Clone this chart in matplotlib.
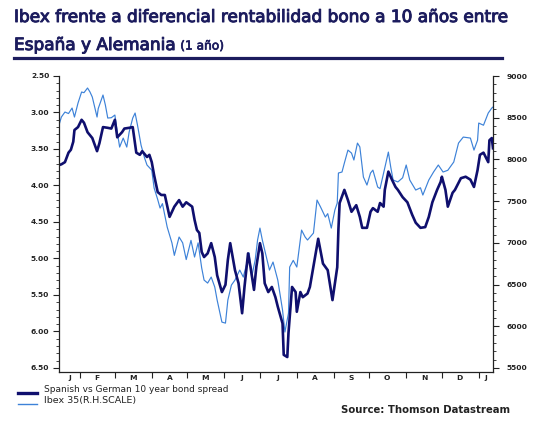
import matplotlib
matplotlib.use('Agg')
import matplotlib.pyplot as plt
import matplotlib.dates as mdates
import matplotlib.patheffects as pe
from matplotlib.ticker import MultipleLocator, FixedLocator, FuncFormatter
from matplotlib.lines import Line2D
import numpy as np
import pandas as pd

# ---------------- data ----------------
spread_dates = ["2012-01-14","2012-01-16","2012-01-19","2012-01-22","2012-01-24","2012-01-26","2012-01-27",
 "2012-01-30","2012-02-02","2012-02-04","2012-02-07","2012-02-11","2012-02-15","2012-02-17","2012-02-20",
 "2012-02-24","2012-02-27","2012-03-01","2012-03-03","2012-03-07","2012-03-09","2012-03-13","2012-03-16",
 "2012-03-19","2012-03-22","2012-03-24","2012-03-28","2012-03-30","2012-04-01","2012-04-03","2012-04-06",
 "2012-04-09","2012-04-12","2012-04-16","2012-04-20","2012-04-24","2012-04-27","2012-04-30","2012-05-05",
 "2012-05-07","2012-05-09","2012-05-11","2012-05-13","2012-05-15","2012-05-18","2012-05-21","2012-05-24",
 "2012-05-26","2012-05-30","2012-06-02","2012-06-04","2012-06-06","2012-06-10","2012-06-13","2012-06-16",
 "2012-06-18","2012-06-21","2012-06-23","2012-06-26","2012-06-28","2012-07-01","2012-07-03","2012-07-05",
 "2012-07-08","2012-07-11","2012-07-14","2012-07-16","2012-07-20","2012-07-21","2012-07-24","2012-07-25",
 "2012-07-28","2012-07-31","2012-08-01","2012-08-04","2012-08-06","2012-08-10","2012-08-12","2012-08-15",
 "2012-08-19","2012-08-23","2012-08-27","2012-08-31","2012-09-04","2012-09-05","2012-09-06","2012-09-10",
 "2012-09-13","2012-09-16","2012-09-20","2012-09-23","2012-09-25","2012-09-29","2012-10-02","2012-10-04",
 "2012-10-08","2012-10-10","2012-10-13","2012-10-14","2012-10-17","2012-10-20","2012-10-23","2012-10-25",
 "2012-10-29","2012-11-02","2012-11-06","2012-11-09","2012-11-13","2012-11-17","2012-11-20","2012-11-23",
 "2012-11-27","2012-11-30","2012-12-01","2012-12-04","2012-12-06","2012-12-10","2012-12-12","2012-12-17",
 "2012-12-21","2012-12-25","2012-12-28","2012-12-31","2013-01-02","2013-01-05","2013-01-09","2013-01-10",
 "2013-01-12","2013-01-13"]
spread_vals = [3.72,3.71,3.68,3.55,3.51,3.40,3.24,
 3.20,3.10,3.14,3.27,3.35,3.53,3.42,3.20,
 3.21,3.22,3.10,3.34,3.27,3.22,3.21,3.20,
 3.55,3.58,3.53,3.61,3.58,3.68,3.86,4.09,
 4.13,4.13,4.43,4.29,4.20,4.29,4.23,4.29,
 4.47,4.61,4.65,4.91,4.98,4.93,4.79,4.98,
 5.23,5.46,5.36,5.02,4.79,5.16,5.34,5.75,
 5.39,4.93,5.11,5.43,5.11,4.79,4.93,5.34,
 5.46,5.39,5.53,5.66,5.89,6.32,6.35,6.02,
 5.39,5.46,5.73,5.46,5.53,5.48,5.39,5.11,
 4.73,5.07,5.16,5.57,5.12,4.60,4.24,4.06,
 4.20,4.36,4.27,4.43,4.58,4.58,4.36,4.31,
 4.36,4.24,4.29,4.06,3.81,3.92,4.02,4.06,
 4.16,4.23,4.40,4.51,4.58,4.57,4.43,4.23,
 4.06,3.95,3.88,4.06,4.29,4.10,4.06,3.90,
 3.88,3.92,4.02,3.79,3.58,3.55,3.68,3.38,
 3.35,3.49]

ibex_dates = ["2012-01-14","2012-01-16","2012-01-19","2012-01-22","2012-01-25","2012-01-27","2012-01-30",
 "2012-02-02","2012-02-04","2012-02-07","2012-02-09","2012-02-11","2012-02-15","2012-02-16","2012-02-20",
 "2012-02-22","2012-02-24","2012-02-27","2012-03-01","2012-03-03","2012-03-05","2012-03-08","2012-03-11",
 "2012-03-13","2012-03-16","2012-03-18","2012-03-20","2012-03-23","2012-03-26","2012-03-28","2012-04-01",
 "2012-04-03","2012-04-06","2012-04-08","2012-04-10","2012-04-14","2012-04-18","2012-04-20","2012-04-24",
 "2012-04-27","2012-04-30","2012-05-04","2012-05-07","2012-05-10","2012-05-13","2012-05-15","2012-05-18",
 "2012-05-21","2012-05-24","2012-05-26","2012-05-30","2012-06-02","2012-06-04","2012-06-07","2012-06-10",
 "2012-06-14","2012-06-17","2012-06-20","2012-06-22","2012-06-24","2012-06-27","2012-06-29","2012-07-01",
 "2012-07-03","2012-07-07","2012-07-09","2012-07-12","2012-07-16","2012-07-20","2012-07-22","2012-07-25",
 "2012-07-26","2012-07-29","2012-08-01","2012-08-05","2012-08-08","2012-08-10","2012-08-15","2012-08-18",
 "2012-08-21","2012-08-25","2012-08-27","2012-08-30","2012-09-02","2012-09-04","2012-09-05","2012-09-08",
 "2012-09-10","2012-09-13","2012-09-16","2012-09-18","2012-09-21","2012-09-23","2012-09-26","2012-09-29",
 "2012-10-02","2012-10-04","2012-10-08","2012-10-10","2012-10-13","2012-10-17","2012-10-19","2012-10-21",
 "2012-10-25","2012-10-29","2012-11-01","2012-11-04","2012-11-09","2012-11-13","2012-11-15","2012-11-20",
 "2012-11-24","2012-11-28","2012-12-02","2012-12-06","2012-12-11","2012-12-15","2012-12-19","2012-12-25",
 "2012-12-28","2012-12-31","2013-01-01","2013-01-05","2013-01-09","2013-01-12","2013-01-13"]
ibex_vals = [8412,8508,8568,8550,8616,8508,8676,
 8808,8800,8856,8810,8748,8508,8610,8772,
 8652,8496,8500,8532,8328,8148,8256,8148,
 8328,8496,8556,8412,8172,8016,7933,7872,
 7657,7520,7417,7470,7189,6998,6850,7070,
 7000,6800,7030,6830,7000,6700,6554,6518,
 6590,6470,6314,6050,6038,6314,6494,6554,
 6674,6590,6758,6878,6590,6794,7034,7177,
 7034,6794,6674,6770,6554,6194,5931,6158,
 6710,6790,6710,7153,7070,7034,7117,7513,
 7429,7309,7350,7177,7393,7477,7837,7849,
 7957,8112,8076,7993,8196,8150,7789,7693,
 7837,7872,7669,7650,7837,8088,7908,7753,
 7730,7780,7933,7753,7633,7660,7573,7753,
 7849,7933,7849,7870,7969,8196,8268,8256,
 8112,8230,8436,8410,8556,8616,8628]

left_ticks = [2.5, 3.0, 3.5, 4.0, 4.5, 5.0, 5.5, 6.0, 6.5]
right_ticks = [5500, 6000, 6500, 7000, 7500, 8000, 8500, 9000]
month_starts = ["2012-02-01","2012-03-01","2012-04-01","2012-05-01","2012-06-01","2012-07-01",
                "2012-08-01","2012-09-01","2012-10-01","2012-11-01","2012-12-01","2013-01-01"]
month_label_pos = ["2012-01-23","2012-02-15","2012-03-16","2012-04-16","2012-05-16","2012-06-16",
                   "2012-07-16","2012-08-16","2012-09-16","2012-10-16","2012-11-16","2012-12-16","2013-01-07"]
month_labels = ["J","F","M","A","M","J","J","A","S","O","N","D","J"]

title_line1 = "Ibex frente a diferencial rentabilidad bono a 10 años entre"
title_line2a = "España y Alemania "
title_line2b = "(1 año)"
legend_labels = ["Spanish vs German 10 year bond spread", "Ibex 35(R.H.SCALE)"]
source_text = "Source: Thomson Datastream"

# ---------------- style ----------------
DARK = '#0f0f6e'
LIGHT = '#3d82d8'
NAVY = '#1c1c5e'
TXT = '#222222'
W, H = 545, 429

fig = plt.figure(figsize=(W/100, H/100), dpi=100)
fig.patch.set_facecolor('white')

def fx(px):
    return px / W

def fy(py):
    return 1 - py / H

renderer = fig.canvas.get_renderer()

def fit_text(x, y, s, width_px, size, **kw):
    t = fig.text(fx(x), fy(y), s, fontsize=size, **kw)
    w = t.get_window_extent(renderer=renderer).width
    if w > 0:
        t.set_fontsize(size * width_px / w)
    return t

# title
TFONT = ['Liberation Sans Narrow', 'DejaVu Sans']
thick = [pe.withStroke(linewidth=0.7, foreground=NAVY)]
t1 = fit_text(14, 17, title_line1, 494, 13, color=NAVY, family=TFONT,
              va='center', ha='left')
t1.set_path_effects(thick)
tsize = t1.get_fontsize()
t2 = fig.text(fx(14), fy(45), title_line2a, fontsize=tsize, color=NAVY, family=TFONT,
              va='center', ha='left', path_effects=thick)
bb = t2.get_window_extent(renderer=renderer)
fig.text(bb.x1 / W, fy(46), title_line2b, fontsize=tsize * 0.72, color=NAVY, family=TFONT,
         va='center', ha='left', path_effects=[pe.withStroke(linewidth=0.5, foreground=NAVY)])
fig.add_artist(Line2D([fx(14), fx(502)], [fy(58), fy(58)], color=NAVY, lw=2.3,
                      transform=fig.transFigure))

# axes
ax = fig.add_axes([fx(59), fy(372), fx(493) - fx(59), fy(76) - fy(372)])
ax2 = ax.twinx()
ax.set_zorder(ax2.get_zorder() + 1)
ax.patch.set_visible(False)

sd = pd.to_datetime(spread_dates)
idt = pd.to_datetime(ibex_dates)
ax2.plot(idt, ibex_vals, color=LIGHT, lw=0.85)
ax.plot(sd, spread_vals, color=DARK, lw=1.9, solid_joinstyle='round')

ax.set_xlim(pd.Timestamp("2012-01-14"), pd.Timestamp("2013-01-13"))
ax.set_ylim(6.555, 2.5)
ax2.set_ylim(5452, 9000)

for a in (ax, ax2):
    for s in a.spines.values():
        s.set_visible(False)
ax.spines['left'].set_visible(True)
ax.spines['bottom'].set_visible(True)
ax2.spines['right'].set_visible(True)
for s in (ax.spines['left'], ax.spines['bottom'], ax2.spines['right']):
    s.set_linewidth(0.9)
    s.set_color('#222222')

tick_kw = dict(fontsize=5.4, fontweight='bold', color=TXT)
ax.set_yticks(left_ticks)
ax.set_yticklabels([f"{v:.2f}" for v in left_ticks], **tick_kw)
ax.yaxis.set_minor_locator(MultipleLocator(0.1))
ax.tick_params(axis='y', which='major', direction='out', length=4, width=0.8, pad=3, colors='#222222')
ax.tick_params(axis='y', which='minor', direction='out', length=2.2, width=0.6, colors='#222222')

ax2.set_yticks(right_ticks)
ax2.set_yticklabels([str(v) for v in right_ticks], **tick_kw)
ax2.yaxis.set_minor_locator(MultipleLocator(100))
ax2.tick_params(axis='y', which='major', direction='out', length=4, width=0.8, pad=6, colors='#222222')
ax2.tick_params(axis='y', which='minor', direction='out', length=2.2, width=0.6, colors='#222222')

ax.set_xticks(pd.to_datetime(month_starts))
ax.set_xticklabels([])
ax.xaxis.set_minor_locator(FixedLocator(mdates.date2num(pd.to_datetime(month_label_pos))))
ax.xaxis.set_minor_formatter(FuncFormatter(lambda v, p: month_labels[p] if p is not None and p < len(month_labels) else ""))
ax.tick_params(axis='x', which='major', direction='out', length=4, width=0.8, colors='#222222')
ax.tick_params(axis='x', which='minor', length=0, pad=2.5)
for lab in ax.xaxis.get_minorticklabels():
    lab.set_fontsize(5.4)
    lab.set_fontweight('bold')
    lab.set_color(TXT)

# legend (manual)
fig.add_artist(Line2D([fx(18), fx(37)], [fy(393), fy(393)], color=DARK, lw=2.4, transform=fig.transFigure))
fig.add_artist(Line2D([fx(18), fx(37)], [fy(403.5), fy(403.5)], color=LIGHT, lw=1.0, transform=fig.transFigure))
fit_text(44, 389.5, legend_labels[0], 185, 6.5, color=TXT, va='center', ha='left')
fit_text(44, 400.5, legend_labels[1], 92, 6.5, color=TXT, va='center', ha='left')
fit_text(341, 410, source_text, 169, 6.5, color=TXT, fontweight='bold', va='center', ha='left')

fig.savefig('out.png', dpi=100, facecolor='white')
